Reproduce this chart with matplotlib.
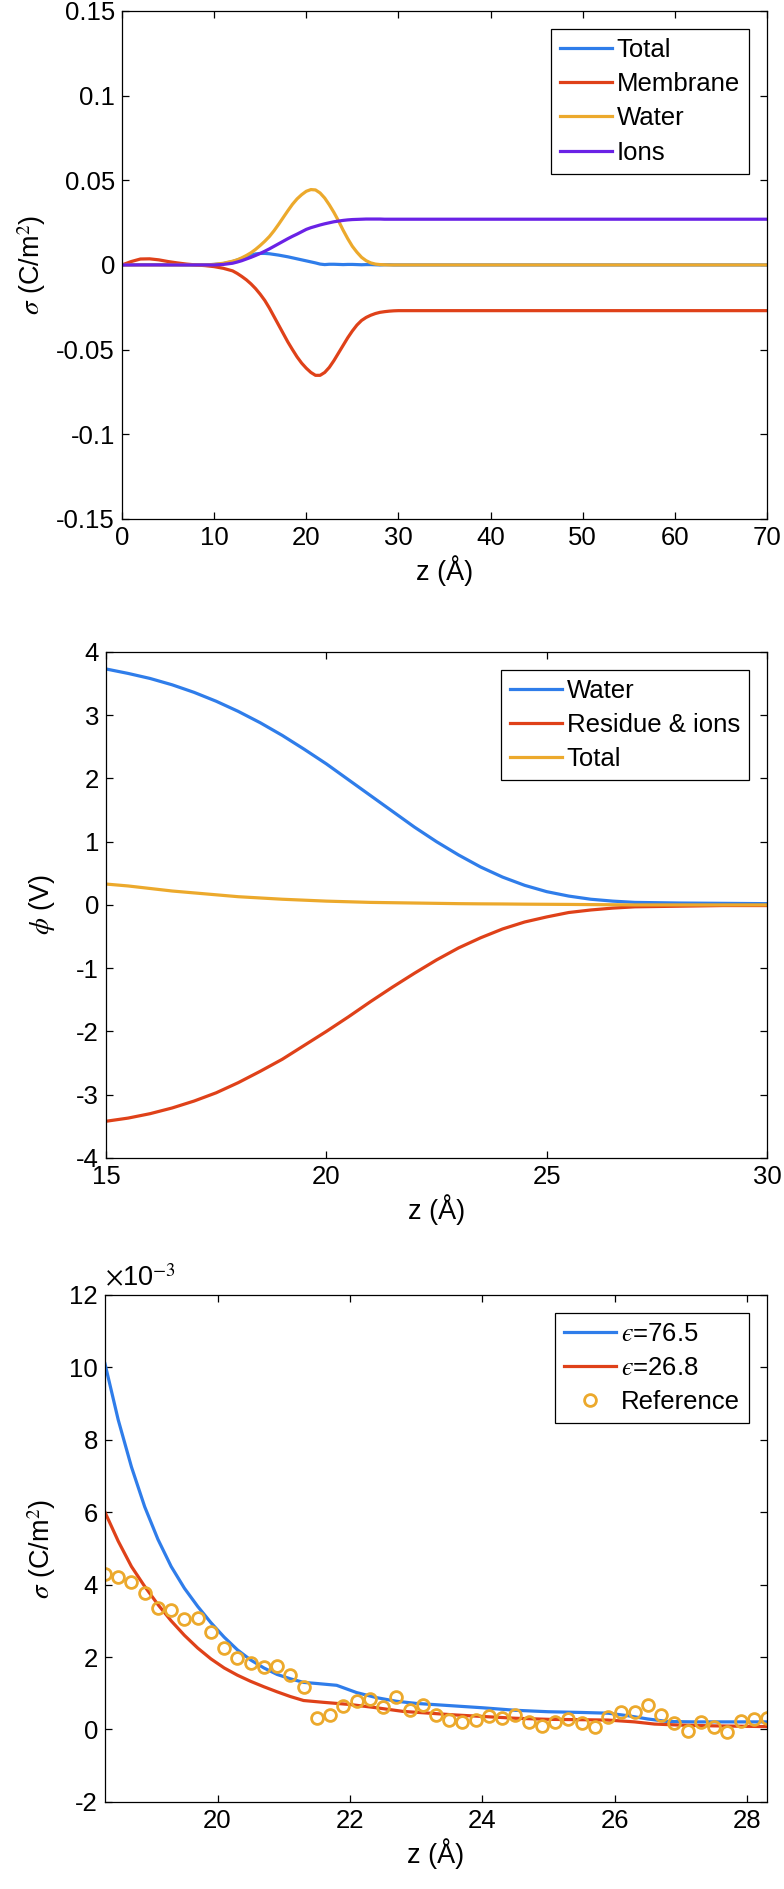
import numpy as np
import matplotlib
matplotlib.use("Agg")
import matplotlib.pyplot as plt

plt.rcParams['font.family'] = ['Liberation Sans', 'DejaVu Sans']
plt.rcParams['mathtext.fontset'] = 'stix'
plt.rcParams['axes.unicode_minus'] = False

#### colours (MATLAB-like) ####
c_blue = '#2f7dea'
c_red = '#df4119'
c_yel = '#eca92c'
c_pur = '#6a22e6'

#### panel 1 : surface charge density vs z ####
z1 = list(range(0, 12)) + list(np.arange(12, 30.5, 0.5)) + list(range(35, 71, 5))
total1 = [0, 0.0001, 0.0002, 0.0002, 0.0002, 0.0001, 0.0001, 0, 0, 0, 0.0003, 0.0008,
          0.002, 0.0029, 0.0038, 0.0048, 0.0058, 0.0065, 0.0068, 0.0068, 0.0066, 0.0062,
          0.0058, 0.0053, 0.0048, 0.0042, 0.0036, 0.003, 0.0024, 0.0018, 0.0012, 0.0005,
          0.0002, 0.0004, 0.0004, 0.0003, 0.0002, 0.0003, 0.0003, 0.0002, 0.0001, 0.0002,
          0.0002, 0.0001, 0.0, 0.0001, 0.0001, 0, 0,
          0, 0, 0, 0, 0, 0, 0, 0]
membrane1 = [0, 0.002, 0.0035, 0.0036, 0.003, 0.002, 0.0012, 0.0005, 0, -0.0004, -0.001, -0.002,
             -0.0035, -0.005, -0.0068, -0.0088, -0.0112, -0.014, -0.0173, -0.021, -0.0255, -0.0305,
             -0.0355, -0.0405, -0.0455, -0.050, -0.0543, -0.058, -0.061, -0.0635, -0.0652, -0.0652,
             -0.0635, -0.0605, -0.0565, -0.052, -0.0475, -0.043, -0.039, -0.0355, -0.0328, -0.031,
             -0.0297, -0.0287, -0.028, -0.0276, -0.0273, -0.0271, -0.027,
             -0.027, -0.027, -0.027, -0.027, -0.027, -0.027, -0.027, -0.027]
water1 = [0, 0, 0, 0, 0, 0, 0, 0, 0, 0, 0.0003, 0.001,
          0.0022, 0.003, 0.0042, 0.0056, 0.0072, 0.0092, 0.0115, 0.014, 0.0168, 0.0202,
          0.024, 0.028, 0.032, 0.0358, 0.039, 0.0415, 0.0435, 0.0445, 0.0443, 0.0425,
          0.0395, 0.0355, 0.031, 0.026, 0.0205, 0.0155, 0.011, 0.0075, 0.0045, 0.0025,
          0.0012, 0.0005, 0.0002, 0.0001, 0, 0, 0,
          0, 0, 0, 0, 0, 0, 0, 0]
ions1 = [0, 0, 0, 0, 0, 0, 0, 0, 0, 0, 0, 0.0003,
         0.001, 0.0017, 0.0025, 0.0035, 0.0045, 0.0056, 0.0068, 0.0081, 0.0095, 0.011,
         0.0125, 0.014, 0.0155, 0.0169, 0.0182, 0.0196, 0.021, 0.022, 0.0228, 0.0236,
         0.0243, 0.0249, 0.0255, 0.0259, 0.0263, 0.0266, 0.0268, 0.0269, 0.027, 0.0271,
         0.0271, 0.0271, 0.0271, 0.027, 0.027, 0.027, 0.027,
         0.027, 0.027, 0.027, 0.027, 0.027, 0.027, 0.027, 0.027]

#### panel 2 : potential vs z ####
z2 = [15, 15.5, 16, 16.5, 17, 17.5, 18, 18.5, 19, 19.5, 20, 20.5, 21, 21.5,
      22, 22.5, 23, 23.5, 24, 24.5, 25, 25.5, 26, 26.5, 27, 28, 29, 30]
water2 = [3.73, 3.66, 3.58, 3.48, 3.36, 3.22, 3.06, 2.88, 2.68, 2.46, 2.23, 1.98, 1.73, 1.48,
          1.23, 1.00, 0.79, 0.60, 0.44, 0.31, 0.21, 0.14, 0.09, 0.06, 0.04, 0.03, 0.025, 0.02]
residue2 = [-3.42, -3.37, -3.30, -3.21, -3.10, -2.97, -2.81, -2.63, -2.44, -2.22, -2.00, -1.77,
            -1.53, -1.30, -1.08, -0.87, -0.68, -0.52, -0.38, -0.27, -0.19, -0.12, -0.08, -0.05,
            -0.03, -0.02, -0.01, -0.01]
total2 = [0.33, 0.30, 0.26, 0.22, 0.19, 0.16, 0.13, 0.11, 0.09, 0.075, 0.06, 0.05, 0.04, 0.035,
          0.03, 0.025, 0.02, 0.017, 0.015, 0.012, 0.01, 0.008, 0.005, 0.003, 0.0, 0.0, 0.0, 0.0]

#### panel 3 : sigma (x1e-3) vs z, continuum models and reference ####
z3_blue = [18.3, 18.5, 18.7, 18.9, 19.1, 19.3, 19.5, 19.7, 19.9, 20.1, 20.3, 20.5, 20.7, 20.9,
           21.1, 21.3, 21.5, 21.8, 22.1, 22.4, 22.7, 23.0, 23.5, 24.0, 24.5, 25.0, 25.5, 25.9,
           26.2, 26.5, 26.8, 27.2, 28.3]
eps76 = [10.1, 8.55, 7.25, 6.15, 5.25, 4.5, 3.9, 3.4, 2.95, 2.55, 2.2, 1.92, 1.7, 1.52,
         1.4, 1.3, 1.27, 1.22, 1.02, 0.88, 0.78, 0.72, 0.66, 0.6, 0.53, 0.49, 0.47, 0.45,
         0.38, 0.29, 0.22, 0.21, 0.21]
z3_red = [18.3, 18.5, 18.7, 18.9, 19.1, 19.3, 19.5, 19.7, 19.9, 20.1, 20.3, 20.5, 20.7, 20.9,
          21.1, 21.3, 21.6, 22.0, 22.4, 22.8, 23.2, 23.6, 24.0, 24.5, 25.0, 25.5, 25.9, 26.3,
          26.6, 27.0, 27.5, 28.3]
eps27 = [6.0, 5.2, 4.5, 3.95, 3.45, 3.0, 2.6, 2.25, 1.95, 1.7, 1.5, 1.33, 1.18, 1.04,
         0.91, 0.8, 0.75, 0.69, 0.6, 0.5, 0.45, 0.4, 0.36, 0.31, 0.28, 0.27, 0.26, 0.21,
         0.15, 0.12, 0.1, 0.08]
z3_ref = [18.3, 18.5, 18.7, 18.9, 19.1, 19.3, 19.5, 19.7, 19.9, 20.1, 20.3, 20.5, 20.7, 20.9,
          21.1, 21.3, 21.5, 21.7, 21.9, 22.1, 22.3, 22.5, 22.7, 22.9, 23.1, 23.3, 23.5, 23.7,
          23.9, 24.1, 24.3, 24.5, 24.7, 24.9, 25.1, 25.3, 25.5, 25.7, 25.9, 26.1, 26.3, 26.5,
          26.7, 26.9, 27.1, 27.3, 27.5, 27.7, 27.9, 28.1, 28.3]
ref3 = [4.30, 4.21, 4.07, 3.76, 3.36, 3.29, 3.05, 3.07, 2.69, 2.24, 1.97, 1.83, 1.73, 1.75,
        1.50, 1.16, 0.32, 0.41, 0.65, 0.79, 0.85, 0.61, 0.91, 0.53, 0.67, 0.39, 0.26, 0.20,
        0.27, 0.38, 0.32, 0.41, 0.22, 0.09, 0.20, 0.29, 0.18, 0.08, 0.35, 0.47, 0.47, 0.67,
        0.41, 0.18, -0.04, 0.20, 0.08, -0.08, 0.24, 0.29, 0.32]

fs = 18.5
lw = 2.3


def style(ax):
    ax.tick_params(direction='in', top=True, right=True, length=5, width=0.9,
                   labelsize=fs, pad=5)
    for sp in ax.spines.values():
        sp.set_linewidth(0.9)
    ax.set_xlabel(u"z (\u00c5)", fontsize=fs + 1, labelpad=4)


def legend(ax):
    leg = ax.legend(loc='upper right', fontsize=fs, fancybox=False, framealpha=1,
                    edgecolor='black', handlelength=2.0, handletextpad=0.2,
                    labelspacing=0.4, borderpad=0.35, borderaxespad=0.7)
    leg.get_frame().set_linewidth(0.9)


fig = plt.figure(figsize=(7.84, 18.89), dpi=100)

ax1 = fig.add_axes([0.1556, 0.7253, 0.8227, 0.2689])
ax1.plot(z1, total1, color=c_blue, lw=lw, label='Total')
ax1.plot(z1, membrane1, color=c_red, lw=lw, label='Membrane')
ax1.plot(z1, water1, color=c_yel, lw=lw, label='Water')
ax1.plot(z1, ions1, color=c_pur, lw=lw, label='Ions')
ax1.set_xlim(0, 70)
ax1.set_ylim(-0.15, 0.15)
ax1.set_xticks(np.arange(0, 71, 10))
ax1.set_yticks([-0.15, -0.1, -0.05, 0, 0.05, 0.1, 0.15])
ax1.set_yticklabels(['-0.15', '-0.1', '-0.05', '0', '0.05', '0.1', '0.15'])
ax1.set_ylabel(r'$\sigma$ (C/m$^2$)', fontsize=fs + 1, labelpad=6)
style(ax1)
legend(ax1)

ax2 = fig.add_axes([0.1352, 0.3870, 0.8431, 0.2679])
ax2.plot(z2, water2, color=c_blue, lw=lw, label='Water')
ax2.plot(z2, residue2, color=c_red, lw=lw, label='Residue & ions')
ax2.plot(z2, total2, color=c_yel, lw=lw, label='Total')
ax2.set_xlim(15, 30)
ax2.set_ylim(-4, 4)
ax2.set_xticks([15, 20, 25, 30])
ax2.set_yticks(np.arange(-4, 5, 1))
ax2.set_ylabel(r'$\phi$ (V)', fontsize=fs + 1, labelpad=14)
style(ax2)
legend(ax2)

ax3 = fig.add_axes([0.1339, 0.0461, 0.8444, 0.2684])
ax3.plot(z3_blue, eps76, color=c_blue, lw=lw, label='$\u03f5$=76.5')
ax3.plot(z3_red, eps27, color=c_red, lw=lw, label='$\u03f5$=26.8')
ax3.plot(z3_ref, ref3, ls='none', marker='o', ms=8.5, mfc='none', mec=c_yel,
         mew=2.0, label='Reference')
ax3.set_xlim(18.3, 28.3)
ax3.set_ylim(-2, 12)
ax3.set_xticks([20, 22, 24, 26, 28])
ax3.set_yticks(np.arange(-2, 13, 2))
ax3.set_ylabel(r'$\sigma$ (C/m$^2$)', fontsize=fs + 1, labelpad=8)
ax3.text(0.0, 1.005, r'$\times$10$^{-3}$', transform=ax3.transAxes,
         fontsize=fs + 1, ha='left', va='bottom')
style(ax3)
legend(ax3)

plt.savefig('out.png', dpi=100)
